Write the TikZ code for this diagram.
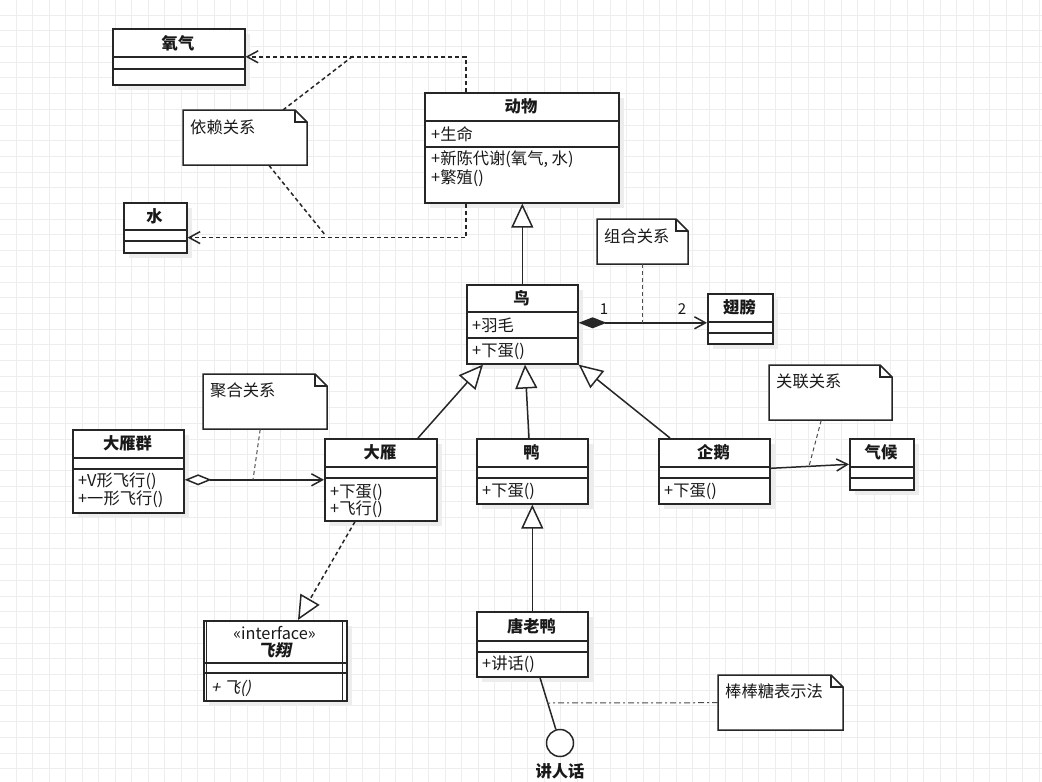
\documentclass[tikz,border=0pt]{standalone}
\usepackage{fontspec}
\setmainfont{Noto Sans CJK SC}[AutoFakeSlant=0.2]
\newfontfamily\slfont{Noto Sans CJK SC}[FakeSlant=0.2, BoldFeatures={FakeSlant=0.2}]
\usetikzlibrary{arrows.meta,calc}

\newcommand\umlbox[7]{%
  \fill[shadowc] (#2+6,#3+6) rectangle (#4+6,#5+6);
  \node[box, minimum width={#4-#2}, minimum height={#5-#3}, anchor=north west] (#1) at (#2,#3) {};
  \draw[boxline] (#2,#6) -- (#4,#6) (#2,#7) -- (#4,#7);
}
\newcommand\umlnote[5]{%
  \node[inner sep=0pt, minimum width={#4-#2}, minimum height={#5-#3}, anchor=north west] (#1) at (#2,#3) {};
  \draw[notebox] (#2,#3) -- (#4-12,#3) -- (#4,#3+12) -- (#4,#5) -- (#2,#5) -- cycle;
  \draw[noteedge] (#4-12,#3) -- (#4-12,#3+12) -- (#4,#3+12);
}

\begin{document}
\begin{tikzpicture}[x=1pt,y=-1pt,
  txt/.style={font=\fontsize{16.3}{19}\selectfont, inner sep=0pt, text=black!90},
  ttl/.style={txt, font=\fontsize{16.3}{19}\selectfont\bfseries},
  box/.style={draw=black!85, line width=1.6pt, fill=white, inner sep=0pt},
  boxline/.style={draw=black!85, line width=1.6pt},
  shadowc/.style={fill=black!7},
  notebox/.style={draw=black!85, line width=1.5pt, fill=white, line join=miter},
  noteedge/.style={draw=black!85, line width=1.5pt},
  gridline/.style={draw=black!7, line width=0.8pt},
  gen/.style={draw=black!85, line width=1.5pt, -{Triangle[open, fill=white, length=24pt, width=22pt]}},
  real/.style={gen, dash pattern=on 4pt off 3pt},
  dep/.style={draw=black!85, line width=1.5pt, dash pattern=on 4pt off 3pt, -{Straight Barb[length=11pt, width=12pt]}},
  depnote/.style={draw=black!85, line width=1.5pt, dash pattern=on 4pt off 3pt},
  assoc/.style={draw=black!85, line width=1.5pt, -{Straight Barb[length=11pt, width=12pt]}},
  comp/.style={draw=black!85, line width=1.5pt, {Diamond[length=28pt, width=11pt]}-{Straight Barb[length=11pt, width=12pt]}},
  agg/.style={draw=black!85, line width=1.5pt, {Diamond[open, fill=white, length=27pt, width=11pt]}-{Straight Barb[length=11pt, width=12pt]}},
  noteline/.style={draw=black!70, line width=1pt, dash pattern=on 4pt off 3pt},
  lolline/.style={draw=black!70, line width=1pt, dash pattern=on 6pt off 3pt on 2pt off 3pt},
]
\useasboundingbox[fill=white] (0,0) rectangle (1042,782);
% grid
\foreach \i in {0,...,62} \draw[gridline] (16+16.5*\i,0) -- (16+16.5*\i,782);
\foreach \j in {0,...,49} \draw[gridline] (0,15+15.7*\j) -- (1042,15+15.7*\j);

% classes
\umlbox{oxy}{112}{28}{244}{84}{57}{69}
\node[ttl] (oxy-t) at (178,43) {氧气};
\umlbox{water}{123}{202}{186}{252}{230}{241}
\node[ttl] (water-t) at (154.5,216) {水};
\umlbox{animal}{424}{92}{618}{202}{121}{147}
\node[ttl] (animal-t) at (521,106) {动物};
\node[txt, anchor=west] (animal-a) at (431,134) {+生命};
\node[txt, anchor=west] (animal-m1) at (431,159) {+新陈代谢(氧气, 水)};
\node[txt, anchor=west] (animal-m2) at (431,178) {+繁殖()};
\umlbox{bird}{466}{284}{577}{363}{312}{338}
\node[ttl] (bird-t) at (521.5,298) {鸟};
\node[txt, anchor=west] (bird-a) at (472,325) {+羽毛};
\node[txt, anchor=west] (bird-m) at (472,351) {+下蛋()};
\umlbox{wing}{707}{293}{772}{343}{322}{333}
\node[ttl] (wing-t) at (739.5,307) {翅膀};
\umlbox{group}{72}{429}{183}{512}{458}{469}
\node[ttl] (group-t) at (127.5,443) {大雁群};
\node[txt, anchor=west] (group-m1) at (78,481) {+V形飞行()};
\node[txt, anchor=west] (group-m2) at (78,499) {+一形飞行()};
\umlbox{goose}{324}{438}{436}{520}{467}{478}
\node[ttl] (goose-t) at (380,452) {大雁};
\node[txt, anchor=west] (goose-m1) at (330,492) {+下蛋()};
\node[txt, anchor=west] (goose-m2) at (330,509) {+飞行()};
\umlbox{duck}{476}{438}{587}{503}{467}{478}
\node[ttl] (duck-t) at (531.5,452) {鸭};
\node[txt, anchor=west] (duck-m) at (482,491) {+下蛋()};
\umlbox{penguin}{658}{438}{769}{503}{467}{478}
\node[ttl] (penguin-t) at (713.5,452) {企鹅};
\node[txt, anchor=west] (penguin-m) at (664,491) {+下蛋()};
\umlbox{climate}{849}{438}{913}{489}{467}{478}
\node[ttl] (climate-t) at (881,452) {气候};
\umlbox{fly}{203}{620}{346}{700}{663}{673}
\draw[boxline] (206.5,620) -- (206.5,700) (342.5,620) -- (342.5,700);
\node[txt] (fly-s) at (274.5,633) {«interface»};
\node[txt, font=\fontsize{16.3}{19}\slfont\bfseries] (fly-t) at (274.5,650) {飞翔};
\node[txt, anchor=west, font=\fontsize{16.3}{19}\slfont] (fly-m) at (211,688) {+ 飞()};
\umlbox{tang}{476}{611}{587}{676}{641}{652}
\node[ttl] (tang-t) at (531.5,626) {唐老鸭};
\node[txt, anchor=west] (tang-m) at (482,664) {+讲话()};

% notes
\umlnote{depnote}{183}{110}{307}{165}
\node[txt, anchor=west] (depnote-t) at (190,127) {依赖关系};
\umlnote{compnote}{597}{219}{688}{264}
\node[txt, anchor=west] (compnote-t) at (604,236) {组合关系};
\umlnote{aggnote}{203}{374}{327}{429}
\node[txt, anchor=west] (aggnote-t) at (210,390) {聚合关系};
\umlnote{assocnote}{769}{365}{892}{420}
\node[txt, anchor=west] (assocnote-t) at (776,381) {关联关系};
\umlnote{lollinote}{718}{675}{843}{730}
\node[txt, anchor=west] (lollinote-t) at (725,691) {棒棒糖表示法};

% dependency
\draw[dep] ($(animal.north west)+(42,0)$) |- (oxy.east);
\draw[dep] ($(animal.south west)+(42,0)$) |- ($(water.south east)+(0,-16)$);
\coordinate (d1) at (353,56);
\coordinate (d2) at (326,236);
\draw[depnote] ($(depnote.north west)+(100,0)$) -- (d1);
\draw[depnote] ($(depnote.south west)+(86,0)$) -- (d2);

% generalization
\draw[gen] (bird.north) -- (bird.north |- animal.south);
\draw[gen] ($(goose.north west)+(94,0)$) -- ($(bird.south west)+(17,0)$);
\draw[gen] ($(duck.north west)+(53,0)$) -- ($(bird.south west)+(59,0)$);
\draw[gen] ($(penguin.north west)+(12,0)$) -- (bird.south east);
\draw[gen] (tang.north) -- (tang.north |- duck.south);
\draw[real] ($(goose.south west)+(31,0)$) -- ($(fly.north west)+(95,0)$);

% composition
\coordinate (w) at ($(wing.west)+(0,4)$);
\draw[comp] (bird.east |- w) -- (w);
\node[txt, font=\fontsize{15}{17}\selectfont] (m1) at (604,309) {1};
\node[txt, font=\fontsize{15}{17}\selectfont] (m2) at (682,309) {2};
\draw[noteline] (compnote.south) -- (compnote.south |- w);

% aggregation
\draw[agg] (group.east |- goose.west) -- (goose.west);
\draw[noteline] ($(aggnote.south)+(-5,0)$) -- ($(goose.west)+(-71,0)$);

% association
\draw[assoc] ($(penguin.east)+(0,-3)$) -- (climate.west);
\draw[noteline] ($(assocnote.south)+(-9.5,0)$) -- ($(climate.west)+(-40,2)$);

% lollipop
\node[circle, draw=black!85, line width=1.5pt, fill=white, minimum size=27pt, inner sep=0pt] (lolli) at (560,743) {};
\draw[draw=black!85, line width=1.5pt] ($(tang.south west)+(64,0)$) -- (lolli);
\node[ttl] (lolli-t) at (560,771) {讲人话};
\coordinate (lp) at (547,703);
\draw[lolline] (lollinote.west) -- (lp);
\end{tikzpicture}
\end{document}
